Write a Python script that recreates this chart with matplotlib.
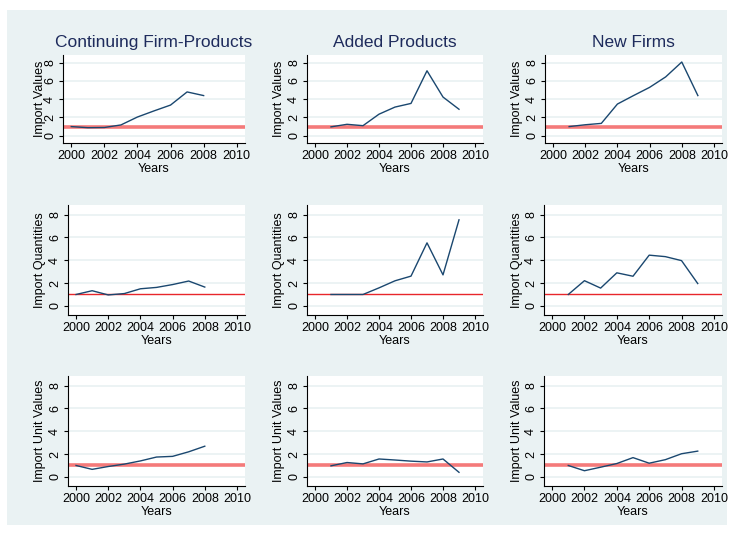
import matplotlib
matplotlib.use("Agg")
import matplotlib.pyplot as plt
from matplotlib.patches import Rectangle

plt.rcParams['font.family'] = ['Liberation Sans', 'DejaVu Sans']

# data
years_cont = [2000, 2001, 2002, 2003, 2004, 2005, 2006, 2007, 2008]
years_new = [2001, 2002, 2003, 2004, 2005, 2006, 2007, 2008, 2009]

col_titles = ["Continuing Firm-Products", "Added Products", "New Firms"]
row_labels = ["Import Values", "Import Quantities", "Import Unit Values"]

values_cont = [1.0, 0.88, 0.9, 1.18, 2.05, 2.72, 3.36, 4.8, 4.4]
values_added = [0.97, 1.25, 1.1, 2.36, 3.14, 3.54, 7.12, 4.24, 2.9]
values_new = [1.0, 1.2, 1.35, 3.47, 4.4, 5.3, 6.45, 8.08, 4.4]

qty_cont = [1.0, 1.33, 0.96, 1.08, 1.5, 1.62, 1.87, 2.18, 1.65]
qty_added = [1.0, 1.0, 1.0, 1.58, 2.2, 2.61, 5.53, 2.72, 7.55]
qty_new = [1.0, 2.21, 1.56, 2.9, 2.6, 4.45, 4.32, 3.97, 1.96]

unit_cont = [1.0, 0.66, 0.91, 1.12, 1.4, 1.74, 1.8, 2.2, 2.69]
unit_added = [0.97, 1.26, 1.14, 1.57, 1.48, 1.38, 1.31, 1.57, 0.4]
unit_new = [1.0, 0.54, 0.85, 1.17, 1.69, 1.2, 1.51, 2.03, 2.26]

series = [
	[(years_cont, values_cont), (years_new, values_added), (years_new, values_new)],
	[(years_cont, qty_cont), (years_new, qty_added), (years_new, qty_new)],
	[(years_cont, unit_cont), (years_new, unit_added), (years_new, unit_new)],
]

W, H = 735, 540
bg = '#eaf2f3'
navy = '#1a476f'

fig = plt.figure(figsize=(W / 100, H / 100), dpi=100)
fig.patches.append(Rectangle((7 / W, 1 - 525 / H), 720 / W, 515 / H,
	transform=fig.transFigure, facecolor=bg, edgecolor='none', zorder=-10))

# axes boxes in pixels: left, top, right, bottom
boxes = [
	[(63, 55, 245, 143), (307, 55, 483, 143), (545, 55, 722, 143)],
	[(68, 205, 245, 315), (307, 205, 483, 315), (544, 205, 722, 315)],
	[(68, 376, 245, 486), (307, 376, 483, 486), (544, 376, 722, 486)],
]
label_x = [[40, 279, 517], [40, 279, 517], [40, 279, 517]]

for r in range(3):
	for c in range(3):
		l, t, rr, b = boxes[r][c]
		ax = fig.add_axes([l / W, 1 - b / H, (rr - l) / W, (b - t) / H])
		ax.set_facecolor('white')
		x, y = series[r][c]
		ax.set_xlim(1999.5, 2010.5)
		ax.set_ylim(-0.8, 8.85)
		for g in [0, 2, 4, 6, 8]:
			ax.axhline(g, color=bg, lw=1.3, zorder=1)
		if r == 1:
			ax.axhline(1, color='#e8262b', lw=1.0, zorder=2)
		else:
			ax.axhline(1, color='#f47a7a', lw=2.6, zorder=2)
		ax.plot(x, y, color=navy, lw=1.0, zorder=3)
		ax.set_xticks(range(2000, 2011, 2))
		ax.set_yticks([0, 2, 4, 6, 8])
		ax.tick_params(axis='both', length=3, width=0.8, labelsize=9, pad=2)
		ax.tick_params(axis='y', labelrotation=90)
		for lab in ax.get_yticklabels():
			lab.set_va('center')
		for side in ['top', 'right']:
			ax.spines[side].set_visible(False)
		for side in ['left', 'bottom']:
			ax.spines[side].set_linewidth(0.8)
		ax.set_xlabel('Years', fontsize=9, labelpad=1)
		ax.set_ylabel(row_labels[r], fontsize=9, va='center')
		ax.yaxis.set_label_coords((label_x[r][c] - l) / (rr - l), 0.5)
		if r == 0:
			ax.set_title(col_titles[c], fontsize=12.5, color='#1e2b5c', pad=6)

fig.savefig('out.png', dpi=100)
